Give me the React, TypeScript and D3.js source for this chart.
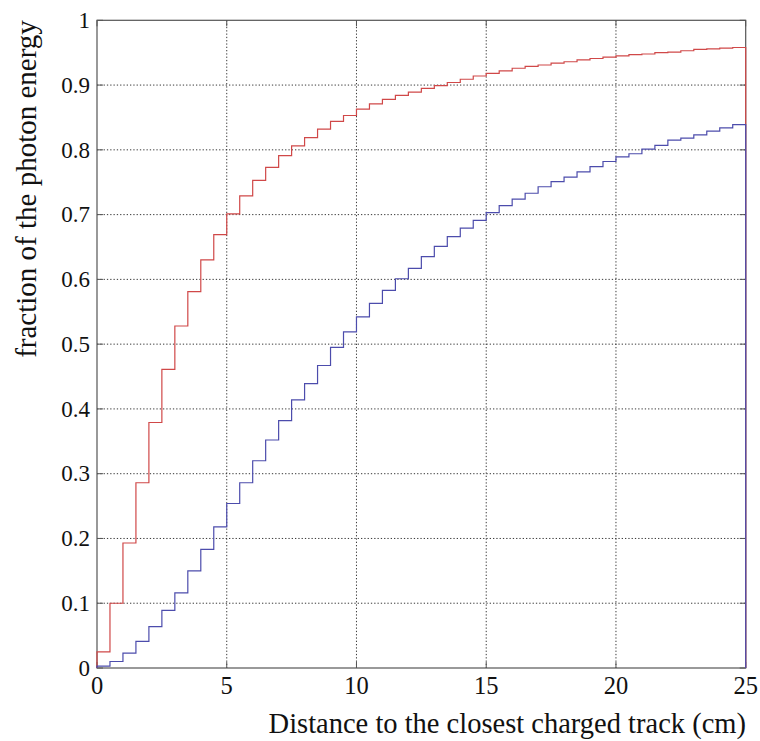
import React from "react";
import * as d3 from "d3";

const binWidth = 0.5;
const redValues = [
  0.025, 0.100, 0.193, 0.286, 0.379, 0.461, 0.528, 0.581, 0.630, 0.669,
  0.701, 0.729, 0.753, 0.773, 0.791, 0.806, 0.819, 0.832, 0.844, 0.853,
  0.863, 0.871, 0.878, 0.884, 0.889, 0.895, 0.899, 0.904, 0.909, 0.914,
  0.918, 0.922, 0.926, 0.929, 0.931, 0.934, 0.936, 0.939, 0.941, 0.943,
  0.945, 0.947, 0.948, 0.950, 0.951, 0.953, 0.955, 0.956, 0.957, 0.958,
];
const blueValues = [
  0.003, 0.010, 0.023, 0.041, 0.064, 0.089, 0.116, 0.150, 0.183, 0.218,
  0.254, 0.286, 0.320, 0.352, 0.382, 0.414, 0.439, 0.467, 0.495, 0.519,
  0.542, 0.563, 0.583, 0.601, 0.617, 0.635, 0.651, 0.666, 0.679, 0.691,
  0.703, 0.714, 0.724, 0.733, 0.743, 0.751, 0.758, 0.766, 0.774, 0.782,
  0.789, 0.794, 0.801, 0.807, 0.815, 0.818, 0.823, 0.829, 0.834, 0.839,
];
const xTicks = [0, 5, 10, 15, 20, 25];
const yTicks = [0, 0.1, 0.2, 0.3, 0.4, 0.5, 0.6, 0.7, 0.8, 0.9, 1];
const yTickLabels = ["0", "0.1", "0.2", "0.3", "0.4", "0.5", "0.6", "0.7", "0.8", "0.9", "1"];
const xLabel = "Distance to the closest charged track (cm)";
const yLabel = "fraction of the photon energy";

const W = 760;
const H = 741;
const left = 97;
const right = 745.7;
const top = 20.3;
const bottom = 668;
const font = "'Liberation Serif', 'Times New Roman', serif";

function stepPoints(vals: number[]): [number, number][] {
  const pts: [number, number][] = [[0, 0]];
  vals.forEach((v, i) => pts.push([i * binWidth, v]));
  const end = vals.length * binWidth;
  pts.push([end, vals[vals.length - 1]]);
  pts.push([end, 0]);
  return pts;
}

export default function App() {
  const x = d3.scaleLinear().domain([0, 25]).range([left, right]);
  const y = d3.scaleLinear().domain([0, 1]).range([bottom, top]);
  const line = d3
    .line<[number, number]>()
    .x((d) => x(d[0]))
    .y((d) => y(d[1]))
    .curve(d3.curveStepAfter);

  const axisColor = "#555";
  const gridColor = "#222";

  return (
    <svg
      width={W}
      height={H}
      style={{ position: "absolute", left: 0, top: 0, background: "#fff" }}
    >
      <rect x={0} y={0} width={W} height={H} fill="#fff" />
      {/* grid */}
      <g>
        {xTicks.slice(1, -1).map((t) => (
          <line
            key={"gx" + t}
            x1={x(t)}
            x2={x(t)}
            y1={top}
            y2={bottom}
            stroke={gridColor}
            strokeWidth={0.9}
            strokeDasharray="1.3,2"
          />
        ))}
        {yTicks.slice(1, -1).map((t) => (
          <line
            key={"gy" + t}
            x1={left}
            x2={right}
            y1={y(t)}
            y2={y(t)}
            stroke={gridColor}
            strokeWidth={0.9}
            strokeDasharray="1.3,2"
          />
        ))}
      </g>
      {/* box */}
      <rect
        x={left}
        y={top}
        width={right - left}
        height={bottom - top}
        fill="none"
        stroke={axisColor}
        strokeWidth={1.2}
      />
      {/* tick marks */}
      {xTicks.map((t) => (
        <g key={"tx" + t}>
          <line x1={x(t)} x2={x(t)} y1={bottom} y2={bottom - 6} stroke={axisColor} strokeWidth={1} />
          <line x1={x(t)} x2={x(t)} y1={top} y2={top + 6} stroke={axisColor} strokeWidth={1} />
        </g>
      ))}
      {yTicks.map((t) => (
        <g key={"ty" + t}>
          <line x1={left} x2={left + 6} y1={y(t)} y2={y(t)} stroke={axisColor} strokeWidth={1} />
          <line x1={right} x2={right - 6} y1={y(t)} y2={y(t)} stroke={axisColor} strokeWidth={1} />
        </g>
      ))}
      {/* series */}
      <path d={line(stepPoints(redValues)) || ""} fill="none" stroke="#d04848" strokeWidth={1.2} />
      <path d={line(stepPoints(blueValues)) || ""} fill="none" stroke="#4c4cac" strokeWidth={1.2} />
      {/* tick labels */}
      {xTicks.map((t) => (
        <text
          key={"lx" + t}
          x={x(t)}
          y={bottom + 25.5}
          textAnchor="middle"
          fontFamily={font}
          fontSize={24.5}
          fill="#111"
        >
          {t}
        </text>
      ))}
      {yTicks.map((t, i) => (
        <text
          key={"ly" + t}
          x={left - 7}
          y={y(t) + 7.8}
          textAnchor="end"
          fontFamily={font}
          fontSize={23}
          fill="#111"
        >
          {yTickLabels[i]}
        </text>
      ))}
      {/* axis labels */}
      <text
        x={746}
        y={733}
        textAnchor="end"
        fontFamily={font}
        fontSize={28.5}
        fill="#111"
      >
        {xLabel}
      </text>
      <text
        transform={`translate(36, ${189}) rotate(-90)`}
        textAnchor="middle"
        fontFamily={font}
        fontSize={29}
        fill="#111"
      >
        {yLabel}
      </text>
    </svg>
  );
}
